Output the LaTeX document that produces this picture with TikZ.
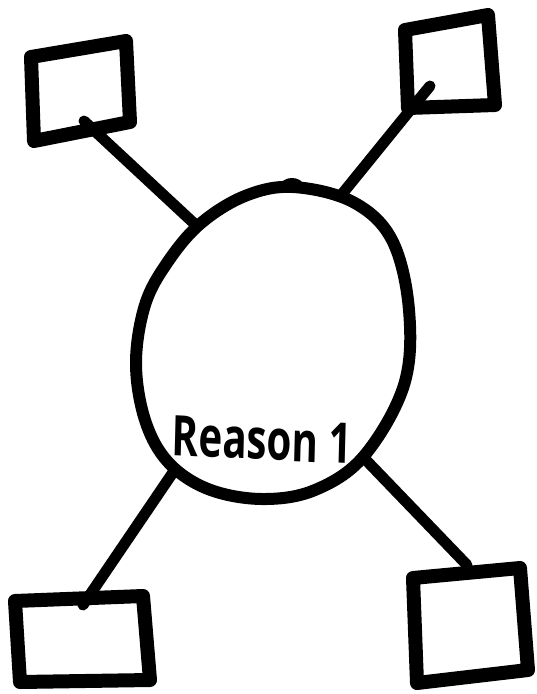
\documentclass[tikz,border=0pt]{standalone}
\usepackage{fontspec}
\newfontfamily\handfont{Open Sans}
\begin{document}
\begin{tikzpicture}[x=1pt,y=-1pt,
  boxline/.style={line width=14pt,line join=round,line cap=round},
  linkline/.style={line width=11pt,line cap=round},
  eggline/.style={line width=12pt,fill=white}]
\useasboundingbox (0,0) rectangle (537,694);
\coordinate (eggTL) at (199,228);
\coordinate (eggTR) at (338,199);
\coordinate (eggBL) at (176,468);
\coordinate (eggBR) at (364,458);
% boxes
\draw[boxline] (31,57) -- (126,41) -- (130,122) -- (34,141) -- cycle;
\draw[boxline] (405,30) -- (488,15) -- (495,105) -- (408,108) -- cycle;
\draw[boxline] (15,601) -- (143,596) -- (150,680) -- (20,682) -- cycle;
\draw[boxline] (413,578) -- (520,568) -- (528,670) -- (417,683) -- cycle;
\coordinate (bTL) at (84,121);
\coordinate (bTR) at (430,86);
\coordinate (bBL) at (83,605);
\coordinate (bBR) at (467,565);
% connectors
\draw[linkline] (bTL) -- (eggTL);
\draw[linkline] (bTR) -- (407,114) -- (eggTR);
\draw[linkline] (bBL) -- (eggBL);
\draw[linkline] (bBR) -- (eggBR);
% central egg
\draw[eggline] plot[smooth cycle,tension=0.6] coordinates {(293,187) (353,202) (392,240) (409,310) (404,385) (364,456) (315,490) (262,499) (208,489) (168,462) (145,420) (136,363) (145,305) (167,263) (200,224) (245,196)};
\fill (292,185) ellipse[x radius=11pt,y radius=7pt];
\node[inner sep=0pt,xscale=0.72,rotate=-2] (lbl) at (262,440) {\handfont\bfseries\fontsize{56}{56}\selectfont Reason 1};
\end{tikzpicture}
\end{document}
